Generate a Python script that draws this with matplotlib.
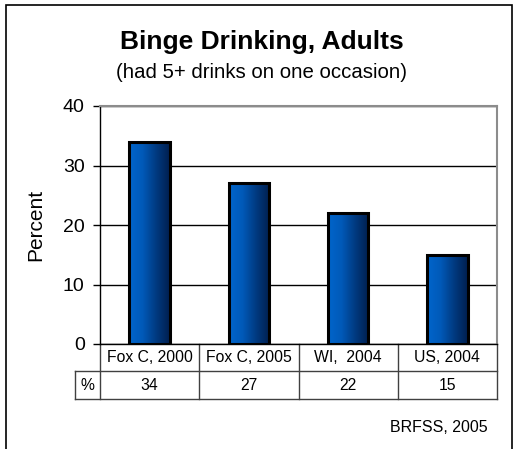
import numpy as np
import matplotlib.pyplot as plt
from matplotlib.patches import Rectangle
from matplotlib.colors import LinearSegmentedColormap
import matplotlib.transforms as mtransforms

plt.rcParams['font.family'] = ['Liberation Sans', 'DejaVu Sans']

# data
categories = ["Fox C, 2000", "Fox C, 2005", "WI,  2004", "US, 2004"]
values = [34, 27, 22, 15]
yticks = [0, 10, 20, 30, 40]

W, H = 514, 449
fig = plt.figure(figsize=(W / 100, H / 100), dpi=100)

# outer border of the chart area
fig.patches.append(Rectangle((5.5 / W, -0.1), (512 - 5.5) / W, (H - 5.5) / H + 0.1,
                             transform=fig.transFigure, fill=False,
                             edgecolor='black', linewidth=1.2))

ax = fig.add_axes([100 / W, (H - 344) / H, 397 / W, 238 / H])
x = np.arange(len(categories))
ax.set_xlim(-0.5, len(categories) - 0.5)
ax.set_ylim(0, 40)
ax.set_yticks(yticks)
ax.set_xticks([])
ax.tick_params(axis='y', direction='out', length=5, width=1, labelsize=14, pad=6)
ax.yaxis.grid(True, color='black', linewidth=1)
ax.set_axisbelow(True)
for s in ['top', 'right']:
    ax.spines[s].set_color('#8c8c8c')
    ax.spines[s].set_linewidth(1.5)
for s in ['left', 'bottom']:
    ax.spines[s].set_color('black')
    ax.spines[s].set_linewidth(1)
ax.set_ylabel("Percent", fontsize=15, labelpad=13)

# gradient bars
cmap = LinearSegmentedColormap.from_list('blu', ['#0066cc', '#0059b8', '#003a80', '#001f4f'])
grad = np.linspace(0, 1, 256).reshape(1, -1)
bars = ax.bar(x, values, width=0.41, facecolor='none', edgecolor='black',
              linewidth=2.2, zorder=3)
for b in bars:
    x0, y0 = b.get_x(), b.get_y()
    w, h = b.get_width(), b.get_height()
    im = ax.imshow(grad, cmap=cmap, aspect='auto', extent=[x0, x0 + w, y0, y0 + h],
                   zorder=2)
    im.set_clip_path(b)

# data table below the axes
trans = mtransforms.blended_transform_factory(ax.transData, ax.transAxes)
r1 = -27 / 238
r2 = -55 / 238
lc = '#404040'
lw = 1
ax.plot([-0.75, 3.5], [r1, r1], transform=trans, color=lc, lw=lw, clip_on=False)
ax.plot([-0.75, 3.5], [r2, r2], transform=trans, color=lc, lw=lw, clip_on=False)
ax.plot([-0.75, -0.75], [r1, r2], transform=trans, color=lc, lw=lw, clip_on=False)
for xb in np.arange(-0.5, 3.6, 1.0):
    ax.plot([xb, xb], [0, r2], transform=trans, color=lc, lw=lw, clip_on=False)
for i, (c, v) in enumerate(zip(categories, values)):
    ax.text(i, r1 / 2, c, transform=trans, ha='center', va='center', fontsize=11.3)
    ax.text(i, (r1 + r2) / 2, str(v), transform=trans, ha='center', va='center', fontsize=11.3)
ax.text(-0.625, (r1 + r2) / 2, "%", transform=trans, ha='center', va='center', fontsize=11.3)

# titles and source
fig.text(262 / W, 1 - 42 / H, "Binge Drinking, Adults", ha='center', va='center',
         fontsize=19, fontweight='bold')
fig.text(262 / W, 1 - 72 / H, "(had 5+ drinks on one occasion)", ha='center', va='center',
         fontsize=14.7)
fig.text(488 / W, 1 - 428 / H, "BRFSS, 2005", ha='right', va='center', fontsize=11.5)

fig.savefig("out.png", dpi=100)
